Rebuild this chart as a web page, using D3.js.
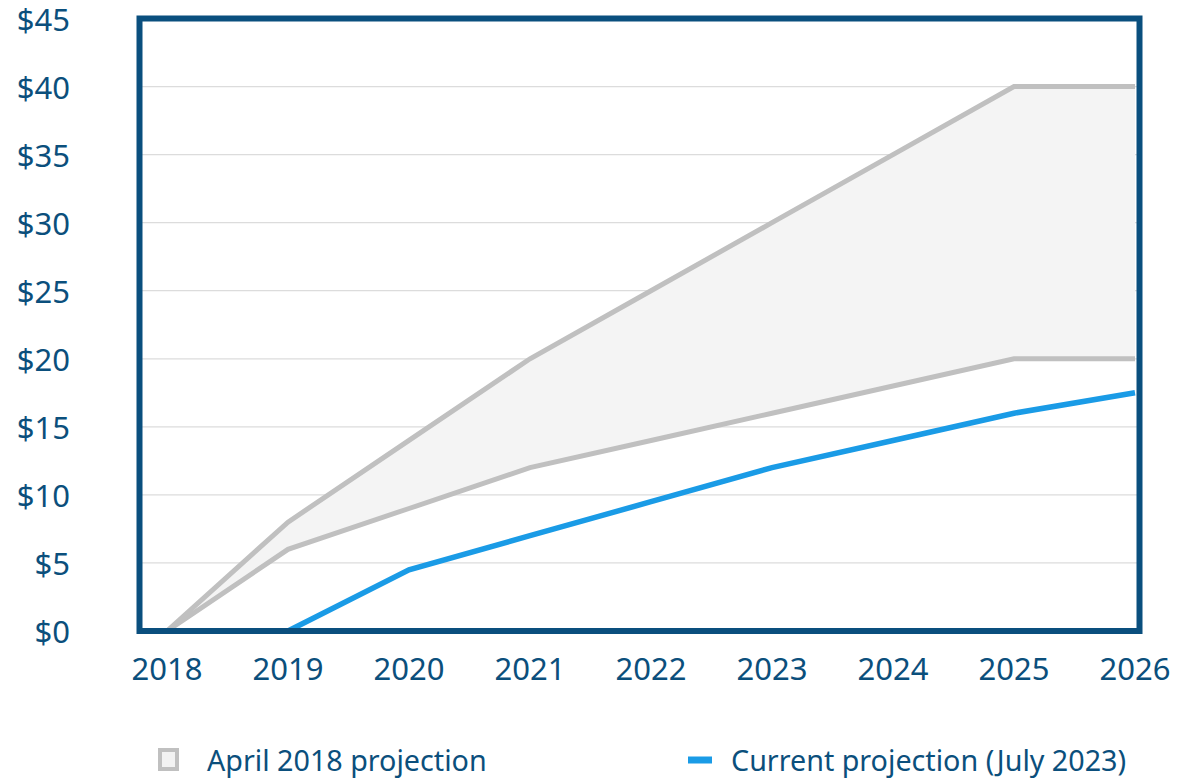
<!DOCTYPE html>
<html>
<head>
<meta charset="utf-8">
<script src="https://cdnjs.cloudflare.com/ajax/libs/d3/7.8.5/d3.min.js"></script>
<style>
  body { margin: 0; background: #fff; }
  text { font-family: "Noto Sans", sans-serif; fill: #0b4f7c; }
</style>
</head>
<body>
<div id="chart"></div>
<script>
var years = [2018, 2019, 2020, 2021, 2022, 2023, 2024, 2025, 2026];
var aprilHigh = [0, 8, 14, 20, 25, 30, 35, 40, 40];
var aprilLow = [0, 6, 9, 12, 14, 16, 18, 20, 20];
var current = [null, 0, 4.5, 7, 9.5, 12, 14, 16, 17.5];
var yTicks = [0, 5, 10, 15, 20, 25, 30, 35, 40, 45];

var width = 1179, height = 779;

var svg = d3.select("#chart").append("svg")
    .attr("width", width)
    .attr("height", height);

var frame = {left: 139.5, right: 1139.5, top: 18.5, bottom: 631};

var x = d3.scaleLinear().domain([2018, 2026]).range([167, 1135]);
var y = d3.scaleLinear().domain([0, 45]).range([frame.bottom, frame.top]);

svg.append("defs").append("clipPath").attr("id", "plot")
    .append("rect")
    .attr("x", frame.left).attr("y", frame.top)
    .attr("width", frame.right - frame.left - 3)
    .attr("height", frame.bottom - frame.top);

// gridlines
svg.append("g")
    .selectAll("line")
    .data(yTicks.slice(1, -1))
    .enter().append("line")
    .attr("x1", frame.left).attr("x2", frame.right)
    .attr("y1", function(d) { return y(d); })
    .attr("y2", function(d) { return y(d); })
    .attr("stroke", "#dcdcdc")
    .attr("stroke-width", 1.2);

var plot = svg.append("g").attr("clip-path", "url(#plot)");

var band = years.map(function(yr, i) { return {year: yr, hi: aprilHigh[i], lo: aprilLow[i]}; });

plot.append("path")
    .datum(band)
    .attr("d", d3.area()
        .x(function(d) { return x(d.year); })
        .y0(function(d) { return y(d.lo); })
        .y1(function(d) { return y(d.hi); }))
    .attr("fill", "#f4f4f4");

[aprilHigh, aprilLow].forEach(function(series) {
    plot.append("path")
        .datum(series)
        .attr("d", d3.line()
            .x(function(d, i) { return x(years[i]); })
            .y(function(d) { return y(d); }))
        .attr("fill", "none")
        .attr("stroke", "#c0c0c0")
        .attr("stroke-width", 5);
});

plot.append("path")
    .datum(current)
    .attr("d", d3.line()
        .defined(function(d) { return d !== null; })
        .x(function(d, i) { return x(years[i]); })
        .y(function(d) { return y(d); }))
    .attr("fill", "none")
    .attr("stroke", "#1a9be6")
    .attr("stroke-width", 5.5);

// frame
svg.append("rect")
    .attr("x", frame.left).attr("y", frame.top)
    .attr("width", frame.right - frame.left)
    .attr("height", frame.bottom - frame.top)
    .attr("fill", "none")
    .attr("stroke", "#0a4f7e")
    .attr("stroke-width", 6);

// y labels
svg.append("g")
    .selectAll("text")
    .data(yTicks)
    .enter().append("text")
    .attr("x", 70)
    .attr("y", function(d) { return y(d) + 12; })
    .attr("text-anchor", "end")
    .style("font-size", "31px")
    .text(function(d) { return "$" + d; });

// x labels
svg.append("g")
    .selectAll("text")
    .data(years)
    .enter().append("text")
    .attr("x", function(d) { return x(d); })
    .attr("y", 680)
    .attr("text-anchor", "middle")
    .style("font-size", "31px")
    .text(function(d) { return d; });

// legend
var legend = svg.append("g");
legend.append("rect")
    .attr("x", 160).attr("y", 750)
    .attr("width", 17).attr("height", 19)
    .attr("fill", "#f2f2f2")
    .attr("stroke", "#c0c0c0")
    .attr("stroke-width", 4);
legend.append("text")
    .attr("x", 207).attr("y", 771)
    .style("font-size", "28.7px")
    .text("April 2018 projection");
legend.append("line")
    .attr("x1", 688).attr("x2", 712)
    .attr("y1", 760).attr("y2", 760)
    .attr("stroke", "#1a9be6")
    .attr("stroke-width", 7);
legend.append("text")
    .attr("x", 731).attr("y", 771)
    .style("font-size", "28.7px")
    .text("Current projection (July 2023)");
</script>
</body>
</html>
